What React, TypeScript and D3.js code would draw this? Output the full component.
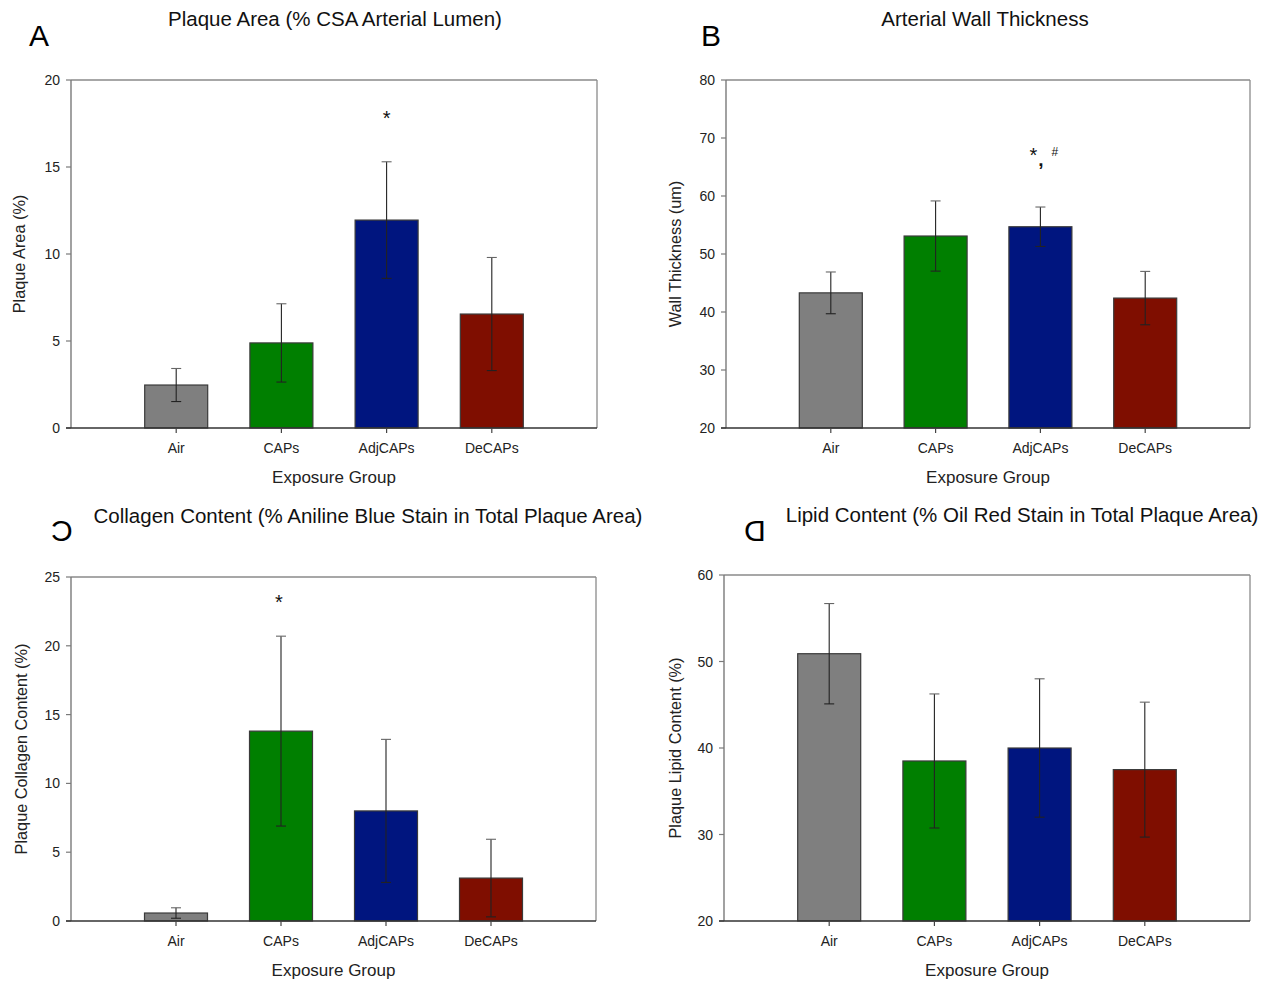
import React from "react";
import * as d3 from "d3";

const categories = ["Air", "CAPs", "AdjCAPs", "DeCAPs"];
const barColors = ["#7f7f7f", "#007f00", "#00157f", "#7f0e00"];

// Panel A: Plaque area
const plaqueArea = [2.47, 4.89, 11.95, 6.55];
const plaqueAreaErr = [0.95, 2.25, 3.35, 3.25];
const plaqueAreaTicks = [0, 5, 10, 15, 20];

// Panel B: Wall thickness
const wallThickness = [43.3, 53.1, 54.7, 42.4];
const wallThicknessErr = [3.6, 6.05, 3.4, 4.6];
const wallThicknessTicks = [20, 30, 40, 50, 60, 70, 80];

// Panel C: Collagen content
const collagen = [0.58, 13.8, 8.0, 3.12];
const collagenErr = [0.38, 6.9, 5.2, 2.82];
const collagenTicks = [0, 5, 10, 15, 20, 25];

// Panel D: Lipid content
const lipid = [50.9, 38.5, 40.0, 37.5];
const lipidErr = [5.8, 7.75, 8.0, 7.8];
const lipidTicks = [20, 30, 40, 50, 60];

// significance marks: [category index, y value]
const plaqueAreaMark = { index: 2, value: 18.05 };
const wallMark = { index: 2, value: 68.0 };
const collagenMark = { index: 1, value: 23.45 };

const FONT = "'Liberation Sans', Arial, Helvetica, sans-serif";

type PanelProps = {
  left: number;
  right: number;
  top: number;
  bottom: number;
  values: number[];
  errs: number[];
  ticks: number[];
  title: string;
  titleX: number;
  titleY: number;
  yLabel: string;
  yLabelX: number;
  letter: string;
  letterX: number;
  letterY: number;
  mirrorLetter?: boolean;
  mark?: React.ReactNode;
};

function Panel(p: PanelProps) {
  const y = d3
    .scaleLinear()
    .domain([p.ticks[0], p.ticks[p.ticks.length - 1]])
    .range([p.bottom, p.top]);
  const x = d3
    .scaleLinear()
    .domain([0, categories.length + 1])
    .range([p.left, p.right]);
  const barW = 63;
  const capW = 10;
  const midY = (p.top + p.bottom) / 2;
  return (
    <g fontFamily={FONT}>
      {p.mirrorLetter ? (
        <text
          transform={`translate(${p.letterX},${p.letterY}) scale(-1,1)`}
          textAnchor="middle"
          fontSize={30}
          fill="#000"
        >
          {p.letter}
        </text>
      ) : (
        <text x={p.letterX} y={p.letterY} textAnchor="middle" fontSize={30} fill="#000">
          {p.letter}
        </text>
      )}
      <text x={p.titleX} y={p.titleY} textAnchor="middle" fontSize={20.5} fill="#111">
        {p.title}
      </text>
      <line x1={p.left} x2={p.right} y1={p.top} y2={p.top} stroke="#8a8a8a" strokeWidth={1.3} />
      <line x1={p.right} x2={p.right} y1={p.top} y2={p.bottom} stroke="#8a8a8a" strokeWidth={1.3} />
      {p.values.map((v, i) => (
        <rect
          key={"b" + i}
          x={x(i + 1) - barW / 2}
          y={y(v)}
          width={barW}
          height={p.bottom - y(v)}
          fill={barColors[i]}
          stroke="#3a3a3a"
          strokeWidth={1.2}
        />
      ))}
      {p.values.map((v, i) => {
        const cx = x(i + 1);
        const lo = y(v - p.errs[i]);
        const hi = y(v + p.errs[i]);
        return (
          <g key={"e" + i} stroke="#222" strokeWidth={1.1}>
            <line x1={cx} x2={cx} y1={lo} y2={hi} />
            <line x1={cx - capW / 2} x2={cx + capW / 2} y1={lo} y2={lo} />
            <line x1={cx - capW / 2} x2={cx + capW / 2} y1={hi} y2={hi} stroke="#666" />
          </g>
        );
      })}
      <line x1={p.left} x2={p.left} y1={p.top} y2={p.bottom} stroke="#7a7a7a" strokeWidth={1.4} />
      {p.ticks.map((t) => (
        <g key={"t" + t}>
          <line x1={p.left - 5} x2={p.left} y1={y(t)} y2={y(t)} stroke="#7a7a7a" strokeWidth={1.2} />
          <text x={p.left - 11} y={y(t) + 5} textAnchor="end" fontSize={14} fill="#222">
            {t}
          </text>
        </g>
      ))}
      <line x1={p.left - 5} x2={p.right} y1={p.bottom} y2={p.bottom} stroke="#333" strokeWidth={1.4} />
      {categories.map((c, i) => (
        <g key={"c" + c}>
          <line x1={x(i + 1)} x2={x(i + 1)} y1={p.bottom} y2={p.bottom + 5} stroke="#444" strokeWidth={1.2} />
          <text x={x(i + 1)} y={p.bottom + 25} textAnchor="middle" fontSize={14} fill="#222">
            {c}
          </text>
        </g>
      ))}
      <text x={(p.left + p.right) / 2} y={p.bottom + 55} textAnchor="middle" fontSize={17} fill="#222">
        Exposure Group
      </text>
      <text
        transform={`translate(${p.yLabelX},${midY}) rotate(-90)`}
        textAnchor="middle"
        fontSize={16.3}
        fill="#222"
      >
        {p.yLabel}
      </text>
      {p.mark}
    </g>
  );
}

export default function App() {
  const xA = d3.scaleLinear().domain([0, 5]).range([71, 597]);
  const yA = d3.scaleLinear().domain([0, 20]).range([428, 80]);
  const xB = d3.scaleLinear().domain([0, 5]).range([726, 1250]);
  const yB = d3.scaleLinear().domain([20, 80]).range([428, 80]);
  const xC = d3.scaleLinear().domain([0, 5]).range([71, 596]);
  const yC = d3.scaleLinear().domain([0, 25]).range([921, 577]);

  return (
    <svg
      width={1268}
      height={981}
      style={{ position: "absolute", left: 0, top: 0, background: "#fff" }}
    >
      <rect width={1268} height={981} fill="#fff" />
      <Panel
        left={71}
        right={597}
        top={80}
        bottom={428}
        values={plaqueArea}
        errs={plaqueAreaErr}
        ticks={plaqueAreaTicks}
        title="Plaque Area (% CSA Arterial Lumen)"
        titleX={335}
        titleY={26}
        yLabel="Plaque Area (%)"
        yLabelX={25}
        letter="A"
        letterX={39}
        letterY={46}
        mark={
          <text
            x={xA(plaqueAreaMark.index + 1)}
            y={yA(plaqueAreaMark.value) + 11}
            textAnchor="middle"
            fontSize={20}
            fontFamily={FONT}
            fill="#111"
          >
            *
          </text>
        }
      />
      <Panel
        left={726}
        right={1250}
        top={80}
        bottom={428}
        values={wallThickness}
        errs={wallThicknessErr}
        ticks={wallThicknessTicks}
        title="Arterial Wall Thickness"
        titleX={985}
        titleY={26}
        yLabel="Wall Thickness (um)"
        yLabelX={681}
        letter="B"
        letterX={711}
        letterY={46}
        mark={
          <text
            x={xB(wallMark.index + 1) - 11}
            y={yB(wallMark.value) + 12}
            fontSize={20}
            fontFamily={FONT}
            fill="#111"
          >
            *
            <tspan dx={1} dy={4} fontSize={19} fontWeight="bold">,</tspan>
            <tspan dx={8} dy={-10} fontSize={12}>#</tspan>
          </text>
        }
      />
      <Panel
        left={71}
        right={596}
        top={577}
        bottom={921}
        values={collagen}
        errs={collagenErr}
        ticks={collagenTicks}
        title="Collagen Content (% Aniline Blue Stain in Total Plaque Area)"
        titleX={368}
        titleY={523}
        yLabel="Plaque Collagen Content (%)"
        yLabelX={27}
        letter="C"
        letterX={62}
        letterY={541}
        mirrorLetter
        mark={
          <text
            x={xC(collagenMark.index + 1) - 2}
            y={yC(collagenMark.value) + 11}
            textAnchor="middle"
            fontSize={20}
            fontFamily={FONT}
            fill="#111"
          >
            *
          </text>
        }
      />
      <Panel
        left={724}
        right={1250}
        top={575}
        bottom={921}
        values={lipid}
        errs={lipidErr}
        ticks={lipidTicks}
        title="Lipid Content (% Oil Red Stain in Total Plaque Area)"
        titleX={1022}
        titleY={522}
        yLabel="Plaque Lipid Content (%)"
        yLabelX={681}
        letter="D"
        letterX={755}
        letterY={541}
        mirrorLetter
      />
    </svg>
  );
}
